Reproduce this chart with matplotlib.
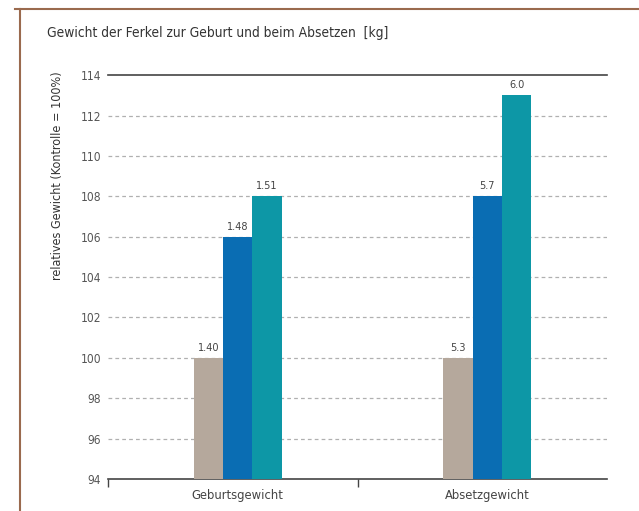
import matplotlib.pyplot as plt
from matplotlib.lines import Line2D

# Gewichte der Ferkel, relativ zur Kontrolle (=100 %)
categories = ['Geburtsgewicht', 'Absetzgewicht']
kontrolle = [100, 100]
gruppe_b = [106, 108]
gruppe_c = [108, 113]
labels_a = ['1.40', '5.3']
labels_b = ['1.48', '5.7']
labels_c = ['1.51', '6.0']
yticks = [94, 96, 98, 100, 102, 104, 106, 108, 110, 112, 114]

plt.rcParams['font.family'] = ['DejaVu Sans']
plt.rcParams['font.stretch'] = 'condensed'

fig = plt.figure(figsize=(6.39, 5.11), dpi=100)
ax = fig.add_axes([0.169, 0.0626, 0.781, 0.7904])

centers = [0.52, 1.52]
w = 0.118
cols = ['#b5a89c', '#0a6db3', '#0d97a6']
series = [kontrolle, gruppe_b, gruppe_c]
texts = [labels_a, labels_b, labels_c]
for k in range(3):
    xs = [c + (k - 1) * w for c in centers]
    bars = ax.bar(xs, series[k], width=w, bottom=0, color=cols[k], zorder=3)
    for b, t in zip(bars, texts[k]):
        ax.text(b.get_x() + b.get_width() / 2, b.get_height() + 0.25, t,
                ha='center', va='bottom', fontsize=7.8, color='#444444')

ax.set_ylim(94, 114)
ax.set_xlim(0, 2)
ax.set_yticks(yticks)
ax.tick_params(axis='y', length=0, pad=5, labelsize=8.6, labelcolor='#555555')

# gestrichelte Hilfslinien, oben durchgezogen
for y in yticks[1:-1]:
    ax.axhline(y, color='#b0b0b0', lw=0.9, ls=(0, (3, 2.5)), zorder=1)
ax.axhline(114, color='#444444', lw=1.2, zorder=2, clip_on=False)

ax.set_xticks(centers)
ax.set_xticklabels(categories)
ax.set_xticks([0, 1], minor=True)
ax.tick_params(axis='x', which='major', length=0, pad=7, labelsize=9.3,
               labelcolor='#444444')
ax.tick_params(axis='x', which='minor', length=6, width=1, color='#444444')

for s in ['left', 'right', 'top']:
    ax.spines[s].set_visible(False)
ax.spines['bottom'].set_color('#444444')
ax.spines['bottom'].set_linewidth(1.2)

fig.text(47 / 639, 1 - 37 / 511, 'Gewicht der Ferkel zur Geburt und beim Absetzen  [kg]',
         fontsize=9.9, color='#333333', va='baseline', ha='left')
fig.text(58 / 639, 1 - 71 / 511, 'relatives Gewicht (Kontrolle = 100%)', rotation=90,
         fontsize=9, color='#333333', va='top', ha='center')

# Rahmen oben und links
bc = '#9a6a4e'
fig.add_artist(Line2D([15 / 639, 1], [1 - 9 / 511, 1 - 9 / 511],
                      transform=fig.transFigure, color=bc, lw=1.5))
fig.add_artist(Line2D([20 / 639, 20 / 639], [0, 1 - 9 / 511],
                      transform=fig.transFigure, color=bc, lw=1.5))

fig.savefig('out.png', dpi=100)
